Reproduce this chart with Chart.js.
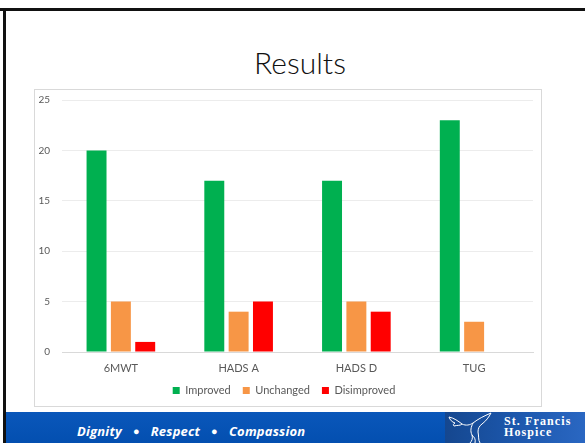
<!DOCTYPE html>
<html>
<head>
<meta charset="utf-8">
<script src="https://cdn.jsdelivr.net/npm/chart.js@4/dist/chart.umd.min.js"></script>
<style>
    body { margin: 0; width: 585px; height: 443px; background: #fff; position: relative; overflow: hidden; font-family: Lato, sans-serif; }
    .topline { position: absolute; left: 0; top: 8px; width: 585px; height: 3px; background: #111; }
    .leftline { position: absolute; left: 3px; top: 8px; width: 3px; height: 435px; background: #111; }
    .title { position: absolute; left: 0; top: 44px; width: 600px; text-align: center; font-size: 30px; line-height: 36px; color: #111; font-weight: 300; }
    .chartbox { position: absolute; left: 34px; top: 89px; width: 506px; height: 316px; border: 1px solid #d9d9d9; }
    .footer { position: absolute; left: 6px; top: 412px; width: 579px; height: 31px; background: linear-gradient(#0a57ba, #034fb0); }
    .motto { position: absolute; left: 71px; top: 10px; font-family: "Open Sans", sans-serif; font-weight: bold; font-style: italic; font-size: 13px; letter-spacing: 0.2px; color: #fff; white-space: nowrap; }
    .motto .dot { display: inline-block; margin: 0 11px; font-size: 11px; vertical-align: 1px; }
    .logo { position: absolute; left: 439px; top: 0; width: 140px; height: 31px; background: linear-gradient(90deg, #15478f, #1c57ac 50%, #2a67c2); }
    .logo svg { position: absolute; left: 0; top: 0; }
    .logotext { position: absolute; left: 59px; top: 4px; font-family: "Liberation Serif", serif; font-weight: bold; font-size: 12px; line-height: 11px; color: #fff; letter-spacing: 1.1px; }
</style>
</head>
<body>
<div class="topline"></div>
<div class="leftline"></div>
<div class="title">Results</div>
<div class="chartbox"><canvas id="resultsChart" width="506" height="316"></canvas></div>
<div class="footer">
    <div class="motto">Dignity<span class="dot">●</span>Respect<span class="dot">●</span>Compassion</div>
    <div class="logo">
        <svg width="60" height="31" viewBox="0 0 60 31">
            <path d="M4 5 C9 6 13 9 17 12 C21 14 25 13 28 11 C33 7 39 4 46 1 C44 5 41 9 37 12 C34 14 33 17 33 20"
                  fill="none" stroke="#fff" stroke-width="1" />
            <path d="M4 5 C5 8 7 10 10 11 C8 12 8 13 9 14 C12 13 15 14 17 12"
                  fill="none" stroke="#fff" stroke-width="1" />
            <path d="M28 11 C26 15 25 19 27 23 C28 26 27 29 25 31 M33 20 C34 24 33 28 35 31 M27 23 C29 25 31 27 30 31"
                  fill="none" stroke="#fff" stroke-width="1" />
        </svg>
        <div class="logotext">St. Francis<br>Hospice</div>
    </div>
</div>

<script>
    // chart data
    const categories = ['6MWT', 'HADS A', 'HADS D', 'TUG'];
    const improved = [20, 17, 17, 23];
    const unchanged = [5, 4, 5, 3];
    const disimproved = [1, 5, 4, 0];
    const seriesNames = ['Improved', 'Unchanged', 'Disimproved'];

    const green = '#00b050';
    const orange = '#f79646';
    const red = '#ff0000';
    const textGrey = '#595959';

    Chart.defaults.font.family = 'Lato, sans-serif';
    Chart.defaults.color = textGrey;

    let resultsChart = new Chart('resultsChart', {
        type: 'bar',
        data: {
            labels: categories,
            datasets: [{
                label: seriesNames[0],
                data: improved,
                backgroundColor: green
            }, {
                label: seriesNames[1],
                data: unchanged,
                backgroundColor: orange
            }, {
                label: seriesNames[2],
                data: disimproved,
                backgroundColor: red
            }]
        },
        options: {
            responsive: false,
            animation: false,
            categoryPercentage: 0.62,
            barPercentage: 0.82,
            layout: {
                padding: { top: 10, right: 8, bottom: 0, left: 0 }
            },
            scales: {
                x: {
                    grid: { display: false, drawTicks: false },
                    border: { color: '#d9d9d9' },
                    ticks: { padding: 10, font: { size: 11 }, color: textGrey },
                    afterFit: function (axis) { axis.height = 21; }
                },
                y: {
                    min: 0,
                    max: 25,
                    // invisible tick marks keep the labels off the plot without padding the top
                    grid: { color: '#ececec', drawTicks: true, tickLength: 12, tickColor: 'transparent' },
                    border: { display: false },
                    ticks: { stepSize: 5, padding: 0, font: { size: 10 }, color: textGrey },
                    afterFit: function (axis) { axis.width = 27; }
                }
            },
            plugins: {
                legend: {
                    position: 'bottom',
                    labels: {
                        boxWidth: 7,
                        boxHeight: 7,
                        padding: 12,
                        font: { size: 11 },
                        color: textGrey
                    }
                },
                tooltip: { enabled: false }
            }
        }
    });
</script>
</body>
</html>
